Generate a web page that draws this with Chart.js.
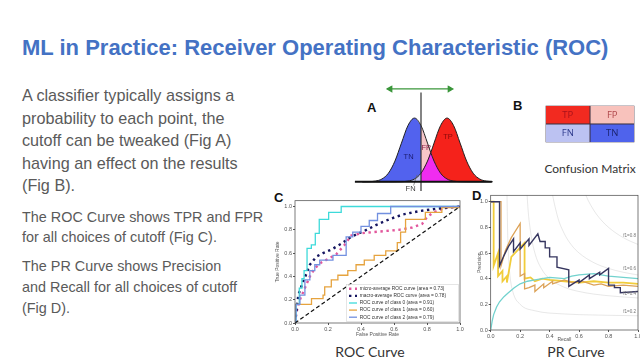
<!DOCTYPE html>
<html>
<head>
<meta charset="utf-8">
<script src="https://cdn.jsdelivr.net/npm/chart.js@4.4.1/dist/chart.umd.min.js"></script>
<style>
  html, body { margin: 0; padding: 0; background: #fff; }
  body { width: 640px; height: 360px; position: relative; overflow: hidden; font-family: "Liberation Sans", Arial, sans-serif; }
  .txt { position: absolute; white-space: nowrap; }
  #title { left: 22px; top: 37px; font-size: 22px; line-height: 22px; font-weight: bold; color: #4472c4; }
  .body { left: 22px; color: #5a5a5a; }
  #p1 { top: 84px; font-size: 16.2px; line-height: 22.5px; }
  #p2 { top: 207px; font-size: 14.4px; line-height: 20px; }
  #p3 { top: 256px; font-size: 14.4px; line-height: 21.2px; }
  .panel { font-size: 13px; line-height: 13px; font-weight: bold; color: #111; }
  .caption { font-family: Lato, "Open Sans", sans-serif; color: #333; transform: translateX(-50%); }
  canvas { position: absolute; }
</style>
</head>
<body>
<div id="title" class="txt">ML in Practice: Receiver Operating Characteristic (ROC)</div>
<div id="p1" class="txt body">A classifier typically assigns a<br>probability to each point, the<br>cutoff can be tweaked (Fig A)<br>having an effect on the results<br>(Fig B).</div>
<div id="p2" class="txt body">The ROC Curve shows TPR and FPR<br>for all choices of cutoff (Fig C).</div>
<div id="p3" class="txt body">The PR Curve shows Precision<br>and Recall for all choices of cutoff<br>(Fig D).</div>

<div class="txt panel" style="left:367px; top:101px;">A</div>
<div class="txt panel" style="left:513px; top:99px;">B</div>
<div class="txt panel" style="left:274px; top:191px;">C</div>
<div class="txt panel" style="left:472px; top:189px;">D</div>

<div class="txt caption" style="left:590px; top:161px; font-size:12px;">Confusion Matrix</div>
<div class="txt caption" style="left:370px; top:343px; font-size:14px;">ROC Curve</div>
<div class="txt caption" style="left:576px; top:343px; font-size:14px;">PR Curve</div>

<canvas id="figA" width="154" height="118" style="left:344px; top:80px;"></canvas>
<canvas id="figB" width="90" height="38" style="left:545px; top:105px;"></canvas>
<canvas id="roc" width="189" height="142" style="left:275px; top:196px;"></canvas>
<canvas id="pr" width="163" height="152" style="left:477px; top:191px;"></canvas>

<script>
// ---- Fig A: classifier scores of the two classes (in units of sigma)
const scoreX = [-4, -3.5, -3, -2.5, -2, -1.5, -1, -0.5, 0, 0.5, 1, 1.25, 1.5, 2, 2.5, 3, 3.5, 4, 4.5, 5, 5.5, 6];
const negDensity = [0, 0.002, 0.011, 0.044, 0.135, 0.325, 0.607, 0.882, 1.0, 0.882, 0.607, 0.458, 0.325, 0.135, 0.044, 0.011, 0.002, 0, 0, 0, 0, 0];
const posDensity = [0, 0, 0, 0, 0, 0, 0.002, 0.011, 0.044, 0.135, 0.325, 0.458, 0.607, 0.882, 1.0, 0.882, 0.607, 0.325, 0.135, 0.044, 0.011, 0.002];
const cutoff = 0.5;
const baselineX = [-4.57, 5.93];
const arrowX = [-1.86, 2.71];
const arrowY = 1.457;
const cutoffY = [-0.143, 1.4];
const regionLabels = ['TN', 'FP', 'TP', 'FN'];
const regionLabelX = [-0.45, 0.9, 2.57, -0.3];
const regionLabelY = [0.39, 0.53, 0.71, -0.11];

// ---- Fig B: confusion matrix, one column of cells per dataset
const matrixRows = ['top', 'bottom'];
const matrixCols = [['TP', 'FN'], ['FP', 'TN']];

// ---- Fig C: ROC curves
const rocLabels = [
  'micro-average ROC curve (area = 0.73)',
  'macro-average ROC curve (area = 0.78)',
  'ROC curve of class 0 (area = 0.91)',
  'ROC curve of class 1 (area = 0.60)',
  'ROC curve of class 2 (area = 0.79)'
];
const rocMicroFpr = [0, 0.01, 0.03, 0.06, 0.09, 0.12, 0.16, 0.20, 0.25, 0.30, 0.34, 0.40, 0.47, 0.55, 0.63, 0.71, 0.77, 0.80, 0.84, 0.91, 1.0];
const rocMicroTpr = [0, 0.10, 0.20, 0.30, 0.40, 0.47, 0.52, 0.55, 0.59, 0.67, 0.75, 0.77, 0.78, 0.79, 0.80, 0.82, 0.85, 0.91, 0.95, 0.99, 1.0];
const rocMacroFpr = [0, 0.01, 0.02, 0.04, 0.06, 0.09, 0.13, 0.17, 0.22, 0.28, 0.34, 0.42, 0.49, 0.57, 0.65, 0.75, 0.85, 1.0];
const rocMacroTpr = [0, 0.12, 0.24, 0.32, 0.39, 0.50, 0.57, 0.60, 0.63, 0.68, 0.74, 0.79, 0.84, 0.89, 0.93, 0.96, 0.98, 1.0];
const roc0Fpr = [0, 0.006, 0.026, 0.042, 0.055, 0.073, 0.099, 0.123, 0.147, 0.204, 0.28, 1.0];
const roc0Tpr = [0, 0.16, 0.30, 0.38, 0.45, 0.64, 0.67, 0.77, 0.89, 0.95, 1.0, 1.0];
const roc1Fpr = [0, 0, 0.10, 0.17, 0.18, 0.22, 0.26, 0.32, 0.37, 0.42, 0.48, 0.55, 0.62, 0.64, 0.67, 0.79, 0.89, 1.0];
const roc1Tpr = [0, 0.16, 0.21, 0.24, 0.31, 0.37, 0.41, 0.45, 0.50, 0.54, 0.58, 0.62, 0.69, 0.78, 0.89, 0.95, 0.99, 1.0];
const roc2Fpr = [0, 0.006, 0.03, 0.06, 0.09, 0.12, 0.15, 0.23, 0.31, 0.35, 0.40, 0.45, 0.50, 0.58, 1.0];
const roc2Tpr = [0, 0.16, 0.24, 0.37, 0.45, 0.50, 0.54, 0.58, 0.74, 0.78, 0.83, 0.88, 0.94, 1.0, 1.0];
const rateTicks = [0, 0.2, 0.4, 0.6, 0.8, 1.0];

// ---- Fig D: precision-recall curves
const prNavyRecall = [0, 0.06, 0.06, 0.09, 0.12, 0.155, 0.155, 0.20, 0.20, 0.26, 0.26, 0.32, 0.335, 0.37, 0.37, 0.40, 0.40, 0.45, 0.45, 0.53, 0.53, 0.60, 0.60, 0.67, 0.67, 0.74, 0.74, 0.80, 0.80, 0.84, 0.84, 0.88, 0.88, 1.0];
const prNavyPrecision = [1.0, 1.0, 0.50, 0.58, 0.65, 0.71, 0.61, 0.68, 0.63, 0.71, 0.66, 0.75, 0.69, 0.69, 0.64, 0.64, 0.57, 0.57, 0.49, 0.47, 0.34, 0.39, 0.37, 0.43, 0.40, 0.45, 0.43, 0.48, 0.35, 0.35, 0.33, 0.33, 0.29, 0.30];
const prGoldRecall = [0, 0.02, 0.02, 0.05, 0.05, 0.08, 0.08, 0.11, 0.11, 0.14, 0.23, 0.23, 0.27, 0.30, 0.35, 0.40, 0.50, 0.60, 0.70, 0.80, 0.90, 1.0];
const prGoldPrecision = [1.0, 1.0, 0.50, 0.60, 0.42, 0.46, 0.38, 0.42, 0.37, 0.57, 0.68, 0.40, 0.41, 0.38, 0.40, 0.39, 0.38, 0.37, 0.38, 0.37, 0.37, 0.36];
const prOrangeRecall = [0, 0.07, 0.07, 0.10, 0.14, 0.20, 0.20, 0.23, 0.23, 0.26, 0.30, 0.30, 0.36, 0.36, 0.42, 0.42, 0.50, 0.55, 0.62, 0.70, 0.75, 0.80, 0.90, 1.0];
const prOrangePrecision = [1.0, 1.0, 0.50, 0.62, 0.72, 0.83, 0.42, 0.44, 0.32, 0.33, 0.35, 0.30, 0.36, 0.33, 0.38, 0.36, 0.39, 0.37, 0.38, 0.35, 0.36, 0.34, 0.35, 0.34];
const prCyanRecall = [0, 0.01, 0.02, 0.04, 0.06, 0.09, 0.12, 0.16, 0.20, 0.25, 0.30, 0.35, 0.40, 0.50, 0.55, 0.60, 0.70, 0.80, 0.90, 1.0];
const prCyanPrecision = [0, 0.07, 0.12, 0.18, 0.22, 0.26, 0.29, 0.33, 0.36, 0.38, 0.39, 0.40, 0.41, 0.40, 0.42, 0.43, 0.44, 0.42, 0.41, 0.40];
const isoF1Levels = ['f1=0.2', 'f1=0.4', 'f1=0.6', 'f1=0.8'];
const isoF1Recall = [
  [0.11, 0.115, 0.12, 0.13, 0.15, 0.2, 0.3, 0.5, 0.7, 1.0],
  [0.21, 0.22, 0.23, 0.25, 0.27, 0.3, 0.35, 0.4, 0.5, 0.6, 0.7, 0.85, 1.0],
  [0.33, 0.35, 0.38, 0.4, 0.45, 0.5, 0.55, 0.6, 0.7, 0.8, 0.9, 1.0],
  [0.55, 0.6, 0.65, 0.7, 0.75, 0.8, 0.85, 0.9, 0.95, 1.0]
];
const isoF1Precision = [
  [1.1, 0.767, 0.6, 0.433, 0.3, 0.2, 0.15, 0.125, 0.117, 0.111],
  [4.2, 2.2, 1.53, 1.0, 0.771, 0.6, 0.467, 0.4, 0.333, 0.3, 0.28, 0.262, 0.25],
  [3.3, 2.1, 1.425, 1.2, 0.9, 0.75, 0.66, 0.6, 0.525, 0.48, 0.45, 0.429],
  [1.467, 1.2, 1.04, 0.933, 0.857, 0.8, 0.756, 0.72, 0.691, 0.667]
];
const isoF1LabelX = 0.9;
const isoF1LabelY = [0.13, 0.276, 0.465, 0.728];

Chart.defaults.animation = false;
Chart.defaults.font.family = '"Liberation Sans", Arial, sans-serif';

const pts = (xs, ys) => xs.map((x, i) => ({ x: x, y: ys[i] }));
const noPlugins = { legend: { display: false }, tooltip: { enabled: false } };

// ---------- Fig A ----------
const leftIdx = scoreX.map((x, i) => i).filter(i => scoreX[i] <= cutoff);
const rightIdx = scoreX.map((x, i) => i).filter(i => scoreX[i] >= cutoff);
const pick = (idx, ys) => idx.map(i => ({ x: scoreX[i], y: ys[i] }));
const overlap = rightIdx.map(i => ({ x: scoreX[i], y: Math.min(negDensity[i], posDensity[i]) }));

const area = (data, color, order) => ({
  data: data, fill: 'origin', backgroundColor: color, borderWidth: 0,
  pointRadius: 0, cubicInterpolationMode: 'monotone', order: order
});
const outline = (ys) => ({
  data: pts(scoreX, ys), fill: false, borderColor: '#222', borderWidth: 1,
  pointRadius: 0, cubicInterpolationMode: 'monotone', order: 0
});

const figALabels = {
  id: 'figALabels',
  afterDatasetsDraw(chart) {
    const { ctx, scales } = chart;
    ctx.save();
    ctx.font = '7.5px "Liberation Sans", Arial';
    ctx.textAlign = 'center';
    ctx.textBaseline = 'middle';
    const colors = ['#1c1c70', '#8a2048', '#8a0a0a', '#444'];
    regionLabels.forEach((t, i) => {
      ctx.fillStyle = colors[i];
      ctx.fillText(t, scales.x.getPixelForValue(regionLabelX[i]), scales.y.getPixelForValue(regionLabelY[i]));
    });
    ctx.restore();
  }
};

new Chart(document.getElementById('figA'), {
  type: 'line',
  data: {
    datasets: [
      outline(negDensity),
      outline(posDensity),
      area(pick(leftIdx, posDensity), '#c3c6f5', 1),
      area(pick(leftIdx, negDensity), '#5262ee', 2),
      area(overlap, '#f02cf0', 3),
      area(pts(scoreX, posDensity), '#f5221b', 4),
      area(pick(rightIdx, negDensity), '#f6c6c8', 5),
      { data: baselineX.map(x => ({ x: x, y: 0 })), borderColor: '#111', borderWidth: 2, pointRadius: 0, order: -1 },
      { data: cutoffY.map(y => ({ x: cutoff, y: y })), borderColor: '#333', borderWidth: 1.2, pointRadius: 0, order: -1 },
      { data: [{ x: -0.07, y: -0.06 }, { x: 0.2, y: 0.11 }], borderColor: '#666', borderWidth: 0.7, pointRadius: 0, order: -1 },
      {
        data: arrowX.map(x => ({ x: x, y: arrowY })), borderColor: '#3a963a', backgroundColor: '#3a963a',
        borderWidth: 1.3, pointStyle: 'triangle', pointRadius: 3, pointRotation: [-90, 90], order: -1
      }
    ]
  },
  options: {
    responsive: false,
    layout: { padding: 0 },
    plugins: noPlugins,
    scales: {
      x: { type: 'linear', min: -5, max: 6, display: false },
      y: { min: -0.171, max: 1.514, display: false }
    }
  },
  plugins: [figALabels]
});

// ---------- Fig B ----------
const cellColors = [['#f22a20', '#bcc2f2'], ['#f8c2bc', '#4f63ec']];
const cellText = [['#a8121a', '#2e3a8c'], ['#b0484c', '#1c2470']];
const matrixLabels = {
  id: 'matrixLabels',
  afterDatasetsDraw(chart) {
    const { ctx } = chart;
    ctx.save();
    ctx.font = '9.5px "Open Sans", Lato, sans-serif';
    ctx.textAlign = 'center';
    ctx.textBaseline = 'middle';
    chart.data.datasets.forEach((ds, c) => {
      chart.getDatasetMeta(c).data.forEach((bar, r) => {
        const p = bar.getCenterPoint();
        ctx.fillStyle = cellText[c][r];
        ctx.fillText(matrixCols[c][r], p.x, p.y + 0.5);
      });
    });
    ctx.restore();
  }
};
new Chart(document.getElementById('figB'), {
  type: 'bar',
  data: {
    labels: matrixRows,
    datasets: matrixCols.map((col, c) => ({
      data: col.map(() => 1), backgroundColor: cellColors[c],
      borderColor: '#3a3040', borderWidth: 0.8, borderSkipped: false,
      barPercentage: 1, categoryPercentage: 1
    }))
  },
  options: {
    responsive: false, indexAxis: 'y',
    layout: { padding: 0.5 },
    plugins: noPlugins,
    scales: {
      x: { stacked: true, min: 0, max: 2, display: false },
      y: { stacked: true, display: false }
    }
  },
  plugins: [matrixLabels]
});

// ---------- shared axis helpers ----------
const frame = {
  id: 'frame',
  afterDatasetsDraw(chart) {
    const { ctx, chartArea: a } = chart;
    ctx.save();
    ctx.strokeStyle = '#444';
    ctx.lineWidth = 0.7;
    ctx.strokeRect(a.left, a.top, a.right - a.left, a.bottom - a.top);
    ctx.restore();
  }
};
const axisOpts = (title, size, extra) => Object.assign({
  type: 'linear', min: 0,
  afterBuildTicks: s => { s.ticks = rateTicks.map(v => ({ value: v })); },
  ticks: { font: { size: 5.5 }, color: '#555', padding: 1, callback: v => Number(v).toFixed(1) },
  grid: { display: true, drawOnChartArea: false, drawTicks: true, tickLength: 2, color: '#555' },
  border: { display: false },
  title: { display: true, text: title, font: { size: 5 }, color: '#555', padding: 0 }
}, extra);

// ---------- Fig C ----------
const rocLegend = {
  id: 'rocLegend',
  afterDatasetsDraw(chart) {
    const { ctx, chartArea } = chart;
    const items = chart.data.datasets.filter(d => d.label);
    const rowH = 7.1, w = 112, h = items.length * rowH + 1.5;
    const x0 = chartArea.right - w - 1.5, y0 = chartArea.bottom - h - 1.5;
    ctx.save();
    ctx.fillStyle = 'rgba(255,255,255,0.8)';
    ctx.strokeStyle = '#d4d4d4';
    ctx.lineWidth = 0.6;
    ctx.fillRect(x0, y0, w, h);
    ctx.strokeRect(x0, y0, w, h);
    ctx.font = '4.8px "Liberation Sans", Arial';
    ctx.textBaseline = 'middle';
    items.forEach((d, i) => {
      const y = y0 + 4.3 + i * rowH;
      ctx.strokeStyle = d.borderColor;
      ctx.lineWidth = d.borderWidth;
      ctx.setLineDash(d.borderDash || []);
      ctx.beginPath();
      ctx.moveTo(x0 + 2.5, y);
      ctx.lineTo(x0 + 10.5, y);
      ctx.stroke();
      ctx.setLineDash([]);
      ctx.fillStyle = '#333';
      ctx.fillText(d.label, x0 + 13.3, y);
    });
    ctx.restore();
  }
};

const rocLine = (label, fpr, tpr, color, order, dotted) => ({
  label: label, data: pts(fpr, tpr), borderColor: color, pointRadius: 0, fill: false, order: order,
  borderWidth: dotted ? 2.4 : 1.3,
  borderDash: dotted ? [2.4, 3.6] : undefined,
  stepped: dotted ? false : 'before'
});

new Chart(document.getElementById('roc'), {
  type: 'line',
  data: {
    datasets: [
      rocLine(rocLabels[0], rocMicroFpr, rocMicroTpr, '#e2579c', 6, true),
      rocLine(rocLabels[1], rocMacroFpr, rocMacroTpr, '#151560', 5, true),
      rocLine(rocLabels[2], roc0Fpr, roc0Tpr, '#3ddada', 4, false),
      rocLine(rocLabels[3], roc1Fpr, roc1Tpr, '#e6a33e', 3, false),
      rocLine(rocLabels[4], roc2Fpr, roc2Tpr, '#7290e0', 2, false),
      { data: pts([0, 1], [0, 1]), borderColor: '#111', borderWidth: 1.2, borderDash: [4, 2.5], pointRadius: 0, order: 1 }
    ]
  },
  options: {
    responsive: false,
    layout: { padding: { top: 4.7, right: 4, left: 0, bottom: 0 } },
    plugins: noPlugins,
    scales: {
      x: axisOpts('False Positive Rate', 0, { max: 1, afterFit: s => { s.height = 15; s.paddingLeft = 0; s.paddingRight = 0; } }),
      y: axisOpts('True Positive Rate', 0, { max: 1.05, afterFit: s => { s.width = 20; s.paddingTop = 0; s.paddingBottom = 0; } })
    }
  },
  plugins: [frame, rocLegend]
});

// ---------- Fig D ----------
const isoLabels = {
  id: 'isoLabels',
  afterDatasetsDraw(chart) {
    const { ctx, scales } = chart;
    ctx.save();
    ctx.font = '4.6px "Liberation Sans", Arial';
    ctx.fillStyle = '#777';
    ctx.textBaseline = 'alphabetic';
    isoF1Levels.forEach((t, i) => {
      ctx.fillText(t, scales.x.getPixelForValue(isoF1LabelX), scales.y.getPixelForValue(isoF1LabelY[i]));
    });
    ctx.restore();
  }
};
const prLine = (recall, precision, color, width, order) => ({
  data: pts(recall, precision), borderColor: color, borderWidth: width, pointRadius: 0, fill: false, order: order
});

new Chart(document.getElementById('pr'), {
  type: 'line',
  data: {
    datasets: [
      prLine(prNavyRecall, prNavyPrecision, '#36365f', 1.4, 1),
      prLine(prCyanRecall, prCyanPrecision, '#72d2ce', 1.3, 2),
      prLine(prOrangeRecall, prOrangePrecision, '#dca257', 1.3, 3),
      prLine(prGoldRecall, prGoldPrecision, '#f1cc3a', 1.8, 4)
    ].concat(isoF1Recall.map((r, i) => ({
      data: pts(r, isoF1Precision[i]), borderColor: 'rgba(150,150,150,0.22)', borderWidth: 1,
      pointRadius: 0, fill: false, cubicInterpolationMode: 'monotone', order: 10
    })))
  },
  options: {
    responsive: false,
    layout: { padding: { top: 4.3, right: 2, left: 0, bottom: 0 } },
    plugins: noPlugins,
    scales: {
      x: axisOpts('Recall', 0, { max: 1, afterFit: s => { s.height = 13; s.paddingLeft = 0; s.paddingRight = 0; } }),
      y: axisOpts('Precision', 0, { max: 1.05, afterFit: s => { s.width = 13.7; s.paddingTop = 0; s.paddingBottom = 0; } })
    }
  },
  plugins: [frame, isoLabels]
});
</script>
</body>
</html>
